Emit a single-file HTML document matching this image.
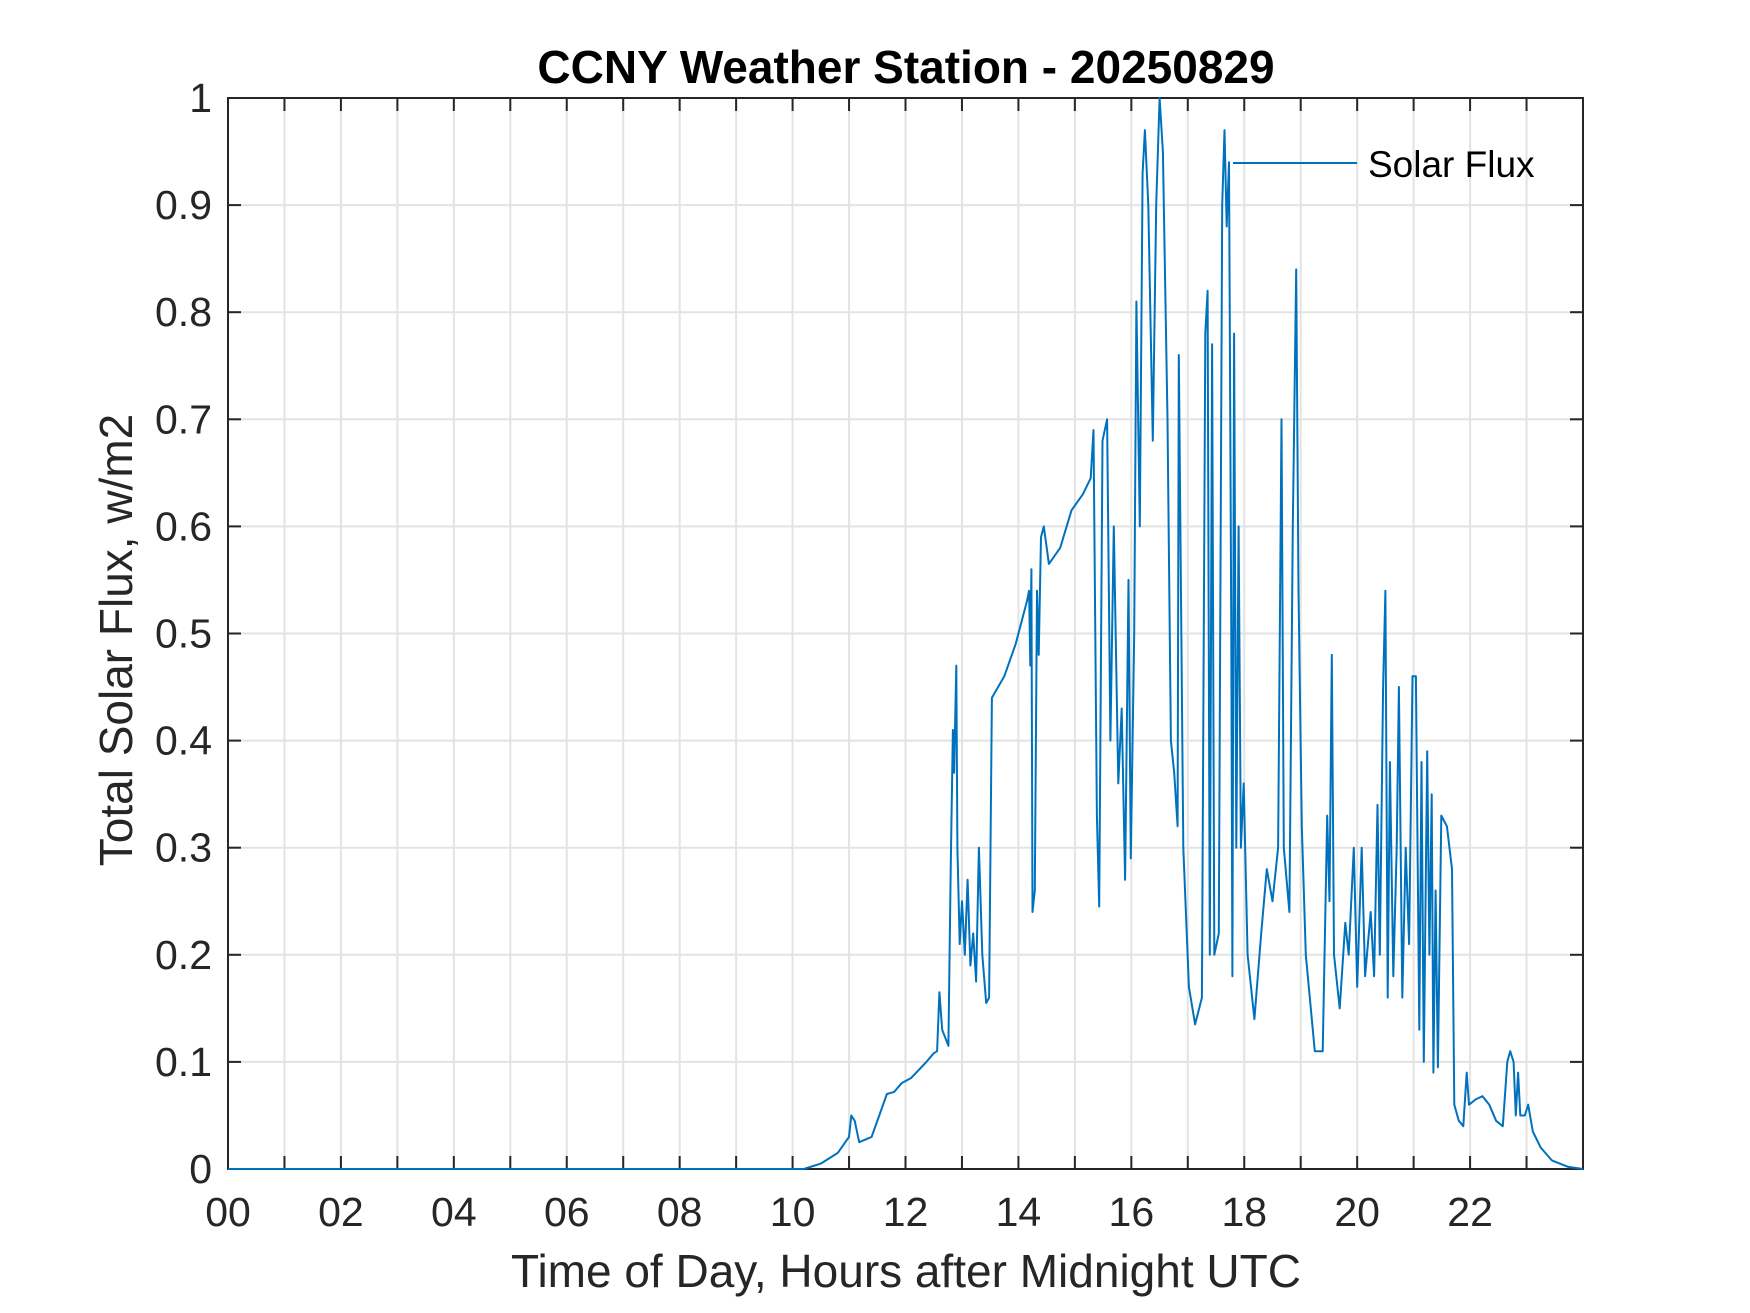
<!DOCTYPE html>
<html><head><meta charset="utf-8"><style>
html,body{margin:0;padding:0;background:#fff;}
svg{display:block;font-family:"Liberation Sans",Arial,sans-serif;}
</style></head><body>
<svg id="chart" width="1750" height="1313" viewBox="0 0 1750 1313">
<rect width="1750" height="1313" fill="#fff"/>
<g id="grid"></g>
<g id="axes"></g>
<polyline id="series" fill="none" stroke="#0072BD" stroke-width="2" stroke-linejoin="round"/>
<text x="906" y="83" text-anchor="middle" font-size="46" font-weight="bold" fill="#000">CCNY Weather Station - 20250829</text>
<text x="906" y="1287" text-anchor="middle" font-size="46" fill="#262626">Time of Day, Hours after Midnight UTC</text>
<text transform="translate(132,640) rotate(-90)" text-anchor="middle" font-size="46" fill="#262626">Total Solar Flux, w/m2</text>
<g>
<line x1="1233" y1="163" x2="1357" y2="163" stroke="#0072BD" stroke-width="2"/>
<text x="1368" y="177" font-size="37" fill="#000">Solar Flux</text>
</g>
</svg>
<script>
const hours=[0,10.2,10.5,10.8,11.0,11.04,11.1,11.18,11.4,11.67,11.8,11.93,12.1,12.37,12.5,12.56,12.6,12.65,12.76,12.8,12.84,12.86,12.9,12.92,12.96,13.0,13.05,13.1,13.15,13.2,13.25,13.3,13.36,13.43,13.48,13.53,13.75,13.95,14.15,14.19,14.21,14.23,14.25,14.29,14.33,14.36,14.4,14.45,14.54,14.74,14.94,15.14,15.28,15.33,15.39,15.43,15.49,15.57,15.63,15.69,15.77,15.83,15.89,15.95,15.99,16.05,16.09,16.15,16.2,16.24,16.3,16.38,16.44,16.5,16.56,16.64,16.7,16.76,16.82,16.84,16.92,17.02,17.13,17.25,17.31,17.35,17.39,17.43,17.47,17.55,17.61,17.65,17.69,17.73,17.77,17.79,17.82,17.86,17.9,17.94,17.99,18.06,18.18,18.3,18.4,18.5,18.6,18.66,18.7,18.8,18.86,18.92,18.96,19.02,19.09,19.25,19.39,19.47,19.51,19.55,19.59,19.69,19.79,19.85,19.94,20.0,20.08,20.14,20.24,20.3,20.36,20.4,20.46,20.5,20.54,20.58,20.64,20.7,20.74,20.8,20.86,20.92,20.98,21.04,21.1,21.14,21.18,21.24,21.28,21.32,21.35,21.39,21.43,21.49,21.59,21.68,21.72,21.8,21.88,21.94,21.98,22.1,22.22,22.34,22.46,22.58,22.66,22.71,22.77,22.81,22.85,22.89,22.97,23.03,23.11,23.25,23.45,23.74,24];
const flux=[0,0,0.005,0.015,0.03,0.05,0.045,0.025,0.03,0.07,0.072,0.08,0.085,0.1,0.108,0.11,0.165,0.13,0.115,0.28,0.41,0.37,0.47,0.3,0.21,0.25,0.2,0.27,0.19,0.22,0.175,0.3,0.2,0.155,0.16,0.44,0.46,0.49,0.53,0.54,0.47,0.56,0.24,0.26,0.54,0.48,0.59,0.6,0.565,0.58,0.615,0.63,0.645,0.69,0.33,0.245,0.68,0.7,0.4,0.6,0.36,0.43,0.27,0.55,0.29,0.5,0.81,0.6,0.93,0.97,0.9,0.68,0.9,1.0,0.95,0.7,0.4,0.37,0.32,0.76,0.3,0.17,0.135,0.16,0.78,0.82,0.2,0.77,0.2,0.22,0.9,0.97,0.88,0.94,0.5,0.18,0.78,0.3,0.6,0.3,0.36,0.2,0.14,0.22,0.28,0.25,0.3,0.7,0.3,0.24,0.6,0.84,0.54,0.32,0.2,0.11,0.11,0.33,0.25,0.48,0.2,0.15,0.23,0.2,0.3,0.17,0.3,0.18,0.24,0.18,0.34,0.2,0.45,0.54,0.16,0.38,0.18,0.3,0.45,0.16,0.3,0.21,0.46,0.46,0.13,0.38,0.1,0.39,0.2,0.35,0.09,0.26,0.095,0.33,0.32,0.28,0.06,0.045,0.04,0.09,0.06,0.065,0.068,0.06,0.045,0.04,0.1,0.11,0.1,0.05,0.09,0.05,0.05,0.06,0.035,0.02,0.008,0.002,0];
const xTickLabels=["00","02","04","06","08","10","12","14","16","18","20","22"];
const yTickLabels=["0","0.1","0.2","0.3","0.4","0.5","0.6","0.7","0.8","0.9","1"];

const X0=228,X1=1583,Y0=1169,Y1=98;
const xs=h=>X0+(h/24)*(X1-X0);
const ys=v=>Y0-(v/1)*(Y0-Y1);
const NS="http://www.w3.org/2000/svg";
const grid=document.getElementById('grid'),axes=document.getElementById('axes');
function mk(tag,attrs,parent){const e=document.createElementNS(NS,tag);for(const k in attrs)e.setAttribute(k,attrs[k]);parent.appendChild(e);return e;}
for(let h=1;h<24;h++){
  const gl=mk('line',{x1:xs(h),x2:xs(h),y1:Y1,y2:Y0,stroke:'#e3e3e3','stroke-width':2},grid);
  
  
  const t1=mk('line',{x1:xs(h),x2:xs(h),y1:Y0,y2:Y0-13,stroke:'#262626','stroke-width':2},axes);
  
  
  const t2=mk('line',{x1:xs(h),x2:xs(h),y1:Y1,y2:Y1+13,stroke:'#262626','stroke-width':2},axes);
  
  
}
xTickLabels.forEach((lab,i)=>{
  const t=mk('text',{x:xs(i*2),y:Y0+57,'text-anchor':'middle','font-size':41,fill:'#262626'},axes);
  t.textContent=lab;
  
  
});
yTickLabels.forEach((lab,i)=>{
  const v=i/10;
  if(i>0&&i<10){
    const gl=mk('line',{x1:X0,x2:X1,y1:ys(v),y2:ys(v),stroke:'#e3e3e3','stroke-width':2},grid);
    
    
  }
  const a=mk('line',{x1:X0,x2:X0+13,y1:ys(v),y2:ys(v),stroke:'#262626','stroke-width':2},axes);
  
  
  const b=mk('line',{x1:X1,x2:X1-13,y1:ys(v),y2:ys(v),stroke:'#262626','stroke-width':2},axes);
  
  
  const t=mk('text',{x:X0-16,y:ys(v)+14,'text-anchor':'end','font-size':41,fill:'#262626'},axes);
  t.textContent=lab;
  
  
});
const box=mk('rect',{x:X0,y:Y1,width:X1-X0,height:Y0-Y1,fill:'none',stroke:'#262626','stroke-width':2},axes);


document.getElementById('series').setAttribute('points',hours.map((h,i)=>xs(h).toFixed(1)+','+ys(flux[i]).toFixed(1)).join(' '));
</script>
</body></html>
